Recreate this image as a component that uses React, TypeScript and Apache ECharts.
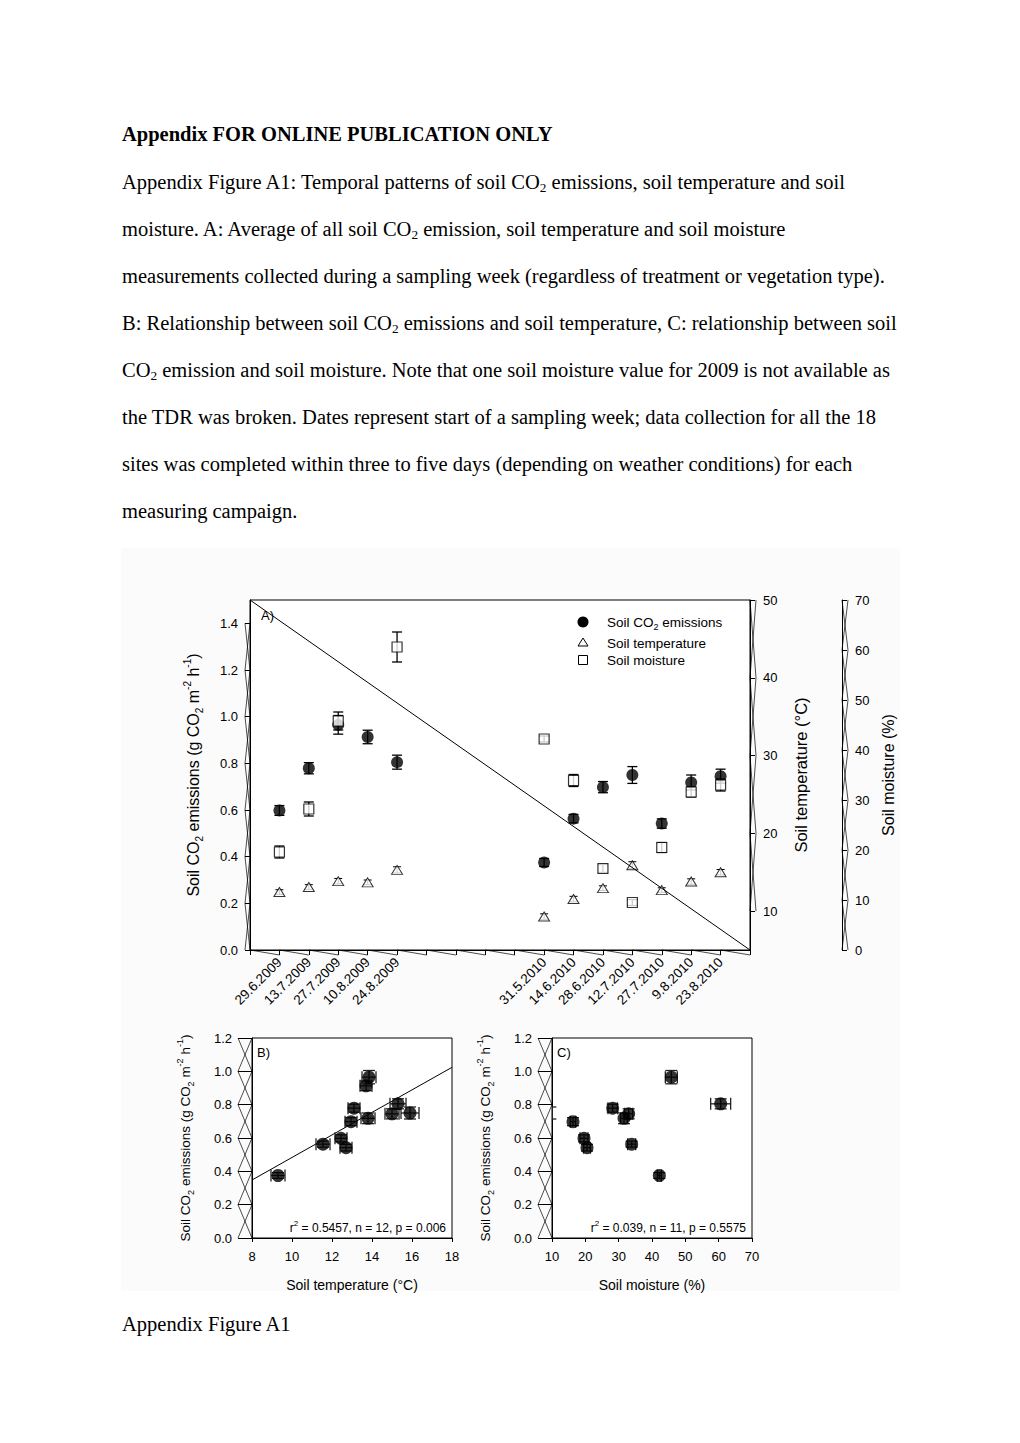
import React, { useEffect, useRef } from "react";
import * as echarts from "echarts";

// ---------------- data ----------------
const categories = [
  "", "29.6.2009", "13.7.2009", "27.7.2009", "10.8.2009", "24.8.2009",
  "", "", "", "",
  "31.5.2010", "14.6.2010", "28.6.2010", "12.7.2010", "27.7.2010", "9.8.2010", "23.8.2010", "",
];
const sampleDates = [
  "29.6.2009", "13.7.2009", "27.7.2009", "10.8.2009", "24.8.2009",
  "31.5.2010", "14.6.2010", "28.6.2010", "12.7.2010", "27.7.2010", "9.8.2010", "23.8.2010",
];
const co2 = [0.598, 0.779, 0.965, 0.913, 0.805, 0.375, 0.563, 0.698, 0.75, 0.542, 0.718, 0.745];
const co2Err = [0.021, 0.024, 0.04, 0.029, 0.03, 0.017, 0.018, 0.024, 0.036, 0.02, 0.032, 0.03];
const temperature = [12.45, 13.1, 13.85, 13.7, 15.3, 9.3, 11.55, 12.95, 15.9, 12.7, 13.8, 15.0];
const temperatureErr = [0.3, 0.3, 0.35, 0.3, 0.4, 0.35, 0.35, 0.3, 0.45, 0.3, 0.35, 0.35];
const moisture = [19.6, 28.2, 45.8, null, 60.6, 42.2, 33.9, 16.3, 9.5, 20.5, 31.6, 33.0];
const moistureErr = [1.2, 1.4, 1.8, null, 3.0, 0.6, 1.2, 0.8, 0.6, 1.0, 1.0, 1.2];
const co2Ticks = [0, 0.2, 0.4, 0.6, 0.8, 1.0, 1.2, 1.4];
const temperatureTicks = [10, 20, 30, 40, 50];
const moistureTicks = [0, 10, 20, 30, 40, 50, 60, 70];
const panelTicks = [0, 0.2, 0.4, 0.6, 0.8, 1.0, 1.2];
const fitB = [[8, 0.348], [18, 1.024]];
const statsB = "0.5457, n = 12, p = 0.006";
const statsC = "0.039, n = 11, p = 0.5575";

// ---------------- layout ----------------
const SANS = "'Liberation Sans', Arial, Helvetica, sans-serif";
const SERIF = "'Liberation Serif', 'Times New Roman', serif";
const GA = { left: 250, top: 600, width: 500, height: 350 };
const GB = { left: 252, top: 1038, width: 200, height: 200 };
const GC = { left: 552, top: 1038, width: 200, height: 200 };
const TICK_FS = 13;

const richStyles = (fs: number) => ({
  n: { fontSize: fs, fontFamily: SANS, color: "#000", lineHeight: fs + 6 },
  s: { fontSize: Math.round(fs * 0.65), fontFamily: SANS, color: "#000", verticalAlign: "bottom", lineHeight: Math.round(fs * 0.7) },
  p: { fontSize: Math.round(fs * 0.65), fontFamily: SANS, color: "#000", verticalAlign: "top", lineHeight: Math.round(fs * 0.7) },
});
const co2Title = "{n|Soil CO}{s|2}{n| emissions (g CO}{s|2}{n| m}{p|-2}{n| h}{p|-1}{n|)}";

function vErr(capHalf: number, lw: number) {
  return (params: any, api: any) => {
    const x = api.value(0);
    const lo = api.coord([x, api.value(1)]);
    const hi = api.coord([x, api.value(2)]);
    const st = { stroke: "#000", lineWidth: lw };
    return {
      type: "group",
      children: [
        { type: "line", shape: { x1: hi[0], y1: hi[1], x2: lo[0], y2: lo[1] }, style: st },
        { type: "line", shape: { x1: hi[0] - capHalf, y1: hi[1], x2: hi[0] + capHalf, y2: hi[1] }, style: st },
        { type: "line", shape: { x1: lo[0] - capHalf, y1: lo[1], x2: lo[0] + capHalf, y2: lo[1] }, style: st },
      ],
    };
  };
}

function xyErr(capHalf: number) {
  return (params: any, api: any) => {
    const x = api.value(0);
    const y = api.value(1);
    const ex = api.value(2);
    const ey = api.value(3);
    const c = api.coord([x, y]);
    const xl = api.coord([x - ex, y]);
    const xh = api.coord([x + ex, y]);
    const yl = api.coord([x, y - ey]);
    const yh = api.coord([x, y + ey]);
    const st = { stroke: "#222", lineWidth: 1.3 };
    return {
      type: "group",
      children: [
        { type: "line", shape: { x1: xl[0], y1: c[1], x2: xh[0], y2: c[1] }, style: st },
        { type: "line", shape: { x1: xl[0], y1: c[1] - capHalf, x2: xl[0], y2: c[1] + capHalf }, style: st },
        { type: "line", shape: { x1: xh[0], y1: c[1] - capHalf, x2: xh[0], y2: c[1] + capHalf }, style: st },
        { type: "line", shape: { x1: c[0], y1: yl[1], x2: c[0], y2: yh[1] }, style: st },
        { type: "line", shape: { x1: c[0] - capHalf, y1: yl[1], x2: c[0] + capHalf, y2: yl[1] }, style: st },
        { type: "line", shape: { x1: c[0] - capHalf, y1: yh[1], x2: c[0] + capHalf, y2: yh[1] }, style: st },
      ],
    };
  };
}

const axisCommon = {
  axisLine: { show: true, lineStyle: { color: "#000", width: 1 } },
  axisTick: { show: true, inside: false, length: 5, lineStyle: { color: "#000", width: 1 } },
  splitLine: { show: false },
};
const labelStyle = (fs: number, margin: number) => ({ fontSize: fs, fontFamily: SANS, color: "#000", margin });

function buildGraphic() {
  const g: any[] = [];
  const ln = (x1: number, y1: number, x2: number, y2: number, w = 0.7) => ({
    type: "line", silent: true, z: 100,
    shape: { x1, y1, x2, y2 }, style: { stroke: "#000", lineWidth: w },
  });
  // diagonal artefact of panel A
  g.push(ln(GA.left, GA.top, GA.left + GA.width, GA.top + GA.height, 1));
  // saw-tooth under A's x axis
  const nCat = categories.length - 1;
  const bottomA = GA.top + GA.height;
  for (let k = 0; k < nCat; k++) {
    const x1 = GA.left + (k * GA.width) / nCat;
    const x2 = GA.left + ((k + 1) * GA.width) / nCat;
    g.push(ln(x1, bottomA, x2, bottomA + 5));
  }
  const crosses = (xo: number, xi: number, ys: number[]) => {
    for (let k = 0; k < ys.length - 1; k++) {
      g.push(ln(xo, ys[k], xi, ys[k + 1]));
      g.push(ln(xo, ys[k + 1], xi, ys[k]));
    }
  };
  const yA = (v: number) => bottomA - (v / 1.5) * GA.height;
  crosses(GA.left - 5, GA.left, co2Ticks.map(yA));
  const yT = (t: number) => bottomA - ((t - 5) / 45) * GA.height;
  crosses(GA.left + GA.width + 6, GA.left + GA.width, temperatureTicks.map(yT));
  const yM = (m: number) => bottomA - (m / 70) * GA.height;
  crosses(GA.left + GA.width + 98, GA.left + GA.width + 92, moistureTicks.map(yM));
  const yP = (G: any) => (v: number) => G.top + G.height - (v / 1.2) * G.height;
  crosses(GB.left - 14, GB.left, panelTicks.map(yP(GB)));
  crosses(GC.left - 14, GC.left, panelTicks.map(yP(GC)));

  // panel letters
  const txt = (x: number, y: number, text: string, fs: number, align = "left") => ({
    type: "text", z: 110, x, y,
    style: { text, fontSize: fs, fontFamily: SANS, fill: "#000", align, verticalAlign: "middle", rich: richStyles(fs) },
  });
  g.push(txt(261, 615, "A)", 13));
  g.push(txt(257, 1052, "B)", 13));
  g.push(txt(557, 1052, "C)", 13));
  g.push(txt(446, 1228, "{n|r}{p|2}{n| = " + statsB + "}", 12, "right"));
  g.push(txt(746, 1228, "{n|r}{p|2}{n| = " + statsC + "}", 12, "right"));

  // legend
  g.push({ type: "circle", z: 110, shape: { cx: 583, cy: 622, r: 5.5 }, style: { fill: "#000" } });
  g.push({ type: "polygon", z: 110, shape: { points: [[578, 646], [588, 646], [583, 638]] }, style: { fill: "#fff", stroke: "#000", lineWidth: 1 } });
  g.push({ type: "rect", z: 110, shape: { x: 578.5, y: 655.5, width: 9, height: 9 }, style: { fill: "#fff", stroke: "#000", lineWidth: 1 } });
  g.push(txt(607, 622, "{n|Soil CO}{s|2}{n| emissions}", 13.5));
  g.push(txt(607, 643, "Soil temperature", 13.5));
  g.push(txt(607, 660, "Soil moisture", 13.5));
  return g;
}

function buildOption() {
  const idx = sampleDates.map((_, i) => i);
  const moistIdx = idx.filter((i) => moisture[i] !== null);
  return {
    animation: false,
    grid: [
      { ...GA, show: true, borderColor: "#000", borderWidth: 1, backgroundColor: "#fff", containLabel: false },
      { ...GB, show: true, borderColor: "#000", borderWidth: 1, backgroundColor: "#fff", containLabel: false },
      { ...GC, show: true, borderColor: "#000", borderWidth: 1, backgroundColor: "#fff", containLabel: false },
    ],
    xAxis: [
      {
        gridIndex: 0, type: "category", data: categories, boundaryGap: false, ...axisCommon,
        axisTick: { ...axisCommon.axisTick, interval: 0 },
        axisLabel: { ...labelStyle(13.5, 10), interval: 0, rotate: 45 },
      },
      {
        gridIndex: 1, type: "value", min: 8, max: 18, interval: 2, ...axisCommon,
        axisTick: { ...axisCommon.axisTick, length: 4 },
        axisLabel: labelStyle(TICK_FS, 12),
        name: "Soil temperature (°C)", nameLocation: "middle", nameGap: 40,
        nameTextStyle: { fontSize: 14, fontFamily: SANS, color: "#000" },
      },
      {
        gridIndex: 2, type: "value", min: 10, max: 70, interval: 10, ...axisCommon,
        axisTick: { ...axisCommon.axisTick, length: 4 },
        axisLabel: labelStyle(TICK_FS, 12),
        name: "Soil moisture (%)", nameLocation: "middle", nameGap: 40,
        nameTextStyle: { fontSize: 14, fontFamily: SANS, color: "#000" },
      },
    ],
    yAxis: [
      {
        gridIndex: 0, type: "value", position: "left", min: 0, max: 1.5, ...axisCommon,
        axisTick: { ...axisCommon.axisTick, customValues: co2Ticks },
        axisLabel: { ...labelStyle(TICK_FS, 12), customValues: co2Ticks, formatter: (v: number) => v.toFixed(1) },
        name: co2Title, nameLocation: "middle", nameGap: 46, nameRotate: 90,
        nameTextStyle: { fontSize: 16, fontFamily: SANS, color: "#000", rich: richStyles(16) },
      },
      {
        gridIndex: 0, type: "value", position: "right", min: 5, max: 50, ...axisCommon,
        axisTick: { ...axisCommon.axisTick, customValues: temperatureTicks },
        axisLabel: { ...labelStyle(TICK_FS, 13), customValues: temperatureTicks },
        name: "Soil temperature (°C)", nameLocation: "middle", nameGap: 42, nameRotate: 90,
        nameTextStyle: { fontSize: 16.5, fontFamily: SANS, color: "#000" },
      },
      {
        gridIndex: 0, type: "value", position: "right", offset: 92, min: 0, max: 70, interval: 10, ...axisCommon,
        axisLabel: labelStyle(TICK_FS, 13),
        name: "Soil moisture (%)", nameLocation: "middle", nameGap: 38, nameRotate: 90,
        nameTextStyle: { fontSize: 16, fontFamily: SANS, color: "#000" },
      },
      {
        gridIndex: 1, type: "value", min: 0, max: 1.2, interval: 0.2, ...axisCommon,
        axisTick: { ...axisCommon.axisTick, length: 14 },
        axisLabel: { ...labelStyle(TICK_FS, 20), formatter: (v: number) => v.toFixed(1) },
        name: co2Title, nameLocation: "middle", nameGap: 57, nameRotate: 90,
        nameTextStyle: { fontSize: 13.5, fontFamily: SANS, color: "#000", rich: richStyles(13.5) },
      },
      {
        gridIndex: 2, type: "value", min: 0, max: 1.2, interval: 0.2, ...axisCommon,
        axisTick: { ...axisCommon.axisTick, length: 14 },
        axisLabel: { ...labelStyle(TICK_FS, 20), formatter: (v: number) => v.toFixed(1) },
        name: co2Title, nameLocation: "middle", nameGap: 57, nameRotate: 90,
        nameTextStyle: { fontSize: 13.5, fontFamily: SANS, color: "#000", rich: richStyles(13.5) },
      },
    ],
    series: [
      // ---- panel A ----
      {
        type: "custom", name: "co2 error", xAxisIndex: 0, yAxisIndex: 0, z: 2,
        renderItem: vErr(5, 1.3), encode: { x: 0, y: [1, 2] },
        data: idx.map((i) => [sampleDates[i], co2[i] - co2Err[i], co2[i] + co2Err[i]]),
      },
      {
        type: "custom", name: "temperature error", xAxisIndex: 0, yAxisIndex: 1, z: 2,
        renderItem: vErr(4, 1), encode: { x: 0, y: [1, 2] },
        data: idx.map((i) => [sampleDates[i], temperature[i] - temperatureErr[i], temperature[i] + temperatureErr[i]]),
      },
      {
        type: "custom", name: "moisture error", xAxisIndex: 0, yAxisIndex: 2, z: 2,
        renderItem: vErr(5, 1.3), encode: { x: 0, y: [1, 2] },
        data: moistIdx.map((i) => [sampleDates[i], (moisture[i] as number) - (moistureErr[i] as number), (moisture[i] as number) + (moistureErr[i] as number)]),
      },
      {
        type: "scatter", name: "Soil CO2 emissions", xAxisIndex: 0, yAxisIndex: 0, z: 5,
        symbol: "circle", symbolSize: 12, itemStyle: { color: "#000" },
        data: idx.map((i) => [sampleDates[i], co2[i]]),
      },
      {
        type: "scatter", name: "Soil temperature", xAxisIndex: 0, yAxisIndex: 1, z: 5,
        symbol: "triangle", symbolSize: [11, 9], itemStyle: { color: "#fff", borderColor: "#000", borderWidth: 1 },
        data: idx.map((i) => [sampleDates[i], temperature[i]]),
      },
      {
        type: "scatter", name: "Soil moisture", xAxisIndex: 0, yAxisIndex: 2, z: 5,
        symbol: "rect", symbolSize: 10, itemStyle: { color: "#fff", borderColor: "#000", borderWidth: 1.2 },
        data: moistIdx.map((i) => [sampleDates[i], moisture[i]]),
      },
      // ---- panel B ----
      {
        type: "line", name: "fit B", xAxisIndex: 1, yAxisIndex: 3, z: 1,
        showSymbol: false, symbol: "none", lineStyle: { color: "#000", width: 1 },
        data: fitB,
      },
      {
        type: "custom", name: "B error", xAxisIndex: 1, yAxisIndex: 3, z: 2,
        renderItem: xyErr(6), encode: { x: 0, y: 1 },
        data: idx.map((i) => [temperature[i], co2[i], temperatureErr[i], co2Err[i]]),
      },
      {
        type: "scatter", name: "B points", xAxisIndex: 1, yAxisIndex: 3, z: 5,
        symbol: "circle", symbolSize: 13, itemStyle: { color: "#000" },
        data: idx.map((i) => [temperature[i], co2[i]]),
      },
      // ---- panel C ----
      {
        type: "custom", name: "C error", xAxisIndex: 2, yAxisIndex: 4, z: 2, clip: true,
        renderItem: xyErr(6), encode: { x: 0, y: 1 },
        data: moistIdx.map((i) => [moisture[i], co2[i], moistureErr[i], co2Err[i]]),
      },
      {
        type: "scatter", name: "C points", xAxisIndex: 2, yAxisIndex: 4, z: 5, clip: true,
        symbol: "circle", symbolSize: 13, itemStyle: { color: "#000" },
        data: moistIdx.map((i) => [moisture[i], co2[i]]),
      },
    ],
    graphic: buildGraphic(),
  };
}

const Sub = () => <span style={{ fontSize: "0.65em", verticalAlign: "-0.25em" }}>2</span>;

const PAGE_FS = 20.5;
const lineStyle = (baseline: number, bold = false): React.CSSProperties => ({
  position: "absolute",
  left: 122,
  top: baseline - 0.8375 * PAGE_FS,
  fontFamily: SERIF,
  fontSize: PAGE_FS + "px",
  lineHeight: PAGE_FS + "px",
  fontWeight: bold ? "bold" : "normal",
  whiteSpace: "nowrap",
  color: "#000",
});

export default function App() {
  const ref = useRef<HTMLDivElement>(null);
  useEffect(() => {
    if (!ref.current) return;
    const chart = echarts.init(ref.current, undefined, { renderer: "svg" });
    chart.setOption(buildOption() as any);
    return () => chart.dispose();
  }, []);

  return (
    <div style={{ position: "absolute", left: 0, top: 0, width: 1020, height: 1443, background: "#fff", overflow: "hidden" }}>
      <div style={{ position: "absolute", left: 121, top: 548, width: 779, height: 743, background: "#fbfbfb" }} />
      <div ref={ref} style={{ position: "absolute", left: 0, top: 0, width: 1020, height: 1443 }} />
      <div style={lineStyle(141, true)}>Appendix FOR ONLINE PUBLICATION ONLY</div>
      <div style={lineStyle(189)}>Appendix Figure A1: Temporal patterns of soil CO<Sub /> emissions, soil temperature and soil</div>
      <div style={lineStyle(236)}>moisture. A: Average of all soil CO<Sub /> emission, soil temperature and soil moisture</div>
      <div style={lineStyle(283)}>measurements collected during a sampling week (regardless of treatment or vegetation type).</div>
      <div style={lineStyle(330)}>B: Relationship between soil CO<Sub /> emissions and soil temperature, C: relationship between soil</div>
      <div style={lineStyle(377)}>CO<Sub /> emission and soil moisture. Note that one soil moisture value for 2009 is not available as</div>
      <div style={lineStyle(424)}>the TDR was broken. Dates represent start of a sampling week; data collection for all the 18</div>
      <div style={lineStyle(471)}>sites was completed within three to five days (depending on weather conditions) for each</div>
      <div style={lineStyle(518)}>measuring campaign.</div>
      <div style={lineStyle(1331)}>Appendix Figure A1</div>
    </div>
  );
}
